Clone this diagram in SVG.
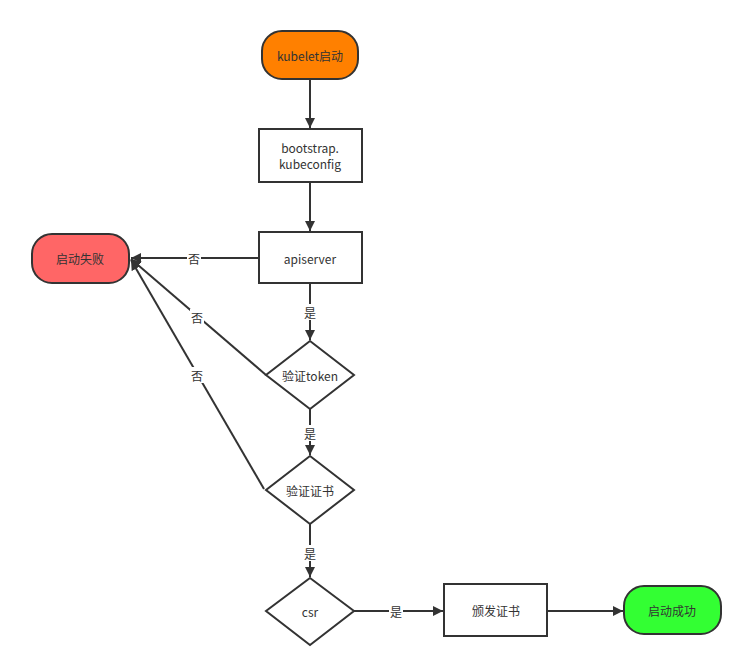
<svg xmlns="http://www.w3.org/2000/svg" width="750" height="669" viewBox="0 0 750 669">
<style>
.s{stroke:#333;stroke-width:2;}
.t{font-family:"Noto Sans CJK SC","Noto Sans",sans-serif;font-size:12px;fill:#333;text-anchor:middle;dominant-baseline:central;}
.l{stroke:#333;stroke-width:2;fill:none;}
.lb{fill:#fff;}
</style>
<defs>
<marker id="a" viewBox="0 0 10 10" refX="10" refY="5" markerWidth="10" markerHeight="10" markerUnits="userSpaceOnUse" orient="auto">
<path d="M0,0 L10,5 L0,10 Z" fill="#333"/>
</marker>
</defs>
<rect width="750" height="669" fill="#fff"/>
<g id="connectors">
<line class="l" x1="310" y1="80" x2="310" y2="128" marker-end="url(#a)"/>
<line class="l" x1="310" y1="182" x2="310" y2="231" marker-end="url(#a)"/>
<line class="l" x1="259" y1="258" x2="131" y2="258" marker-end="url(#a)"/>
<line class="l" x1="310" y1="283" x2="310" y2="340" marker-end="url(#a)"/>
<line class="l" x1="266" y1="375" x2="131" y2="259" marker-end="url(#a)"/>
<line class="l" x1="310" y1="409" x2="310" y2="455" marker-end="url(#a)"/>
<line class="l" x1="264" y1="489" x2="131" y2="260" marker-end="url(#a)"/>
<line class="l" x1="310" y1="524" x2="310" y2="577" marker-end="url(#a)"/>
<line class="l" x1="354" y1="611" x2="443" y2="611" marker-end="url(#a)"/>
<line class="l" x1="547" y1="611" x2="623" y2="611" marker-end="url(#a)"/>
<rect class="lb" x="187" y="250" width="14" height="16"/>
<text class="t" x="194" y="258">否</text>
<rect class="lb" x="190" y="309" width="14" height="16"/>
<text class="t" x="197" y="317">否</text>
<rect class="lb" x="190" y="367" width="14" height="16"/>
<text class="t" x="197" y="375">否</text>
<rect class="lb" x="303" y="304" width="14" height="16"/>
<text class="t" x="310" y="312">是</text>
<rect class="lb" x="303" y="425" width="14" height="16"/>
<text class="t" x="310" y="433">是</text>
<rect class="lb" x="303" y="545" width="14" height="16"/>
<text class="t" x="310" y="553">是</text>
<rect class="lb" x="389" y="603" width="14" height="16"/>
<text class="t" x="396" y="611">是</text>
</g>
<g id="kubelet">
<rect class="s" x="262" y="31" width="96" height="48" rx="20" fill="#FF8000"/>
<text class="t" x="310" y="55">kubelet启动</text>
</g>
<g id="bootstrap">
<rect class="s" x="259" y="129" width="103" height="53" fill="#fff"/>
<text class="t" x="310" y="147">bootstrap.</text>
<text class="t" x="310" y="163">kubeconfig</text>
</g>
<g id="apiserver">
<rect class="s" x="259" y="232" width="103" height="51" fill="#fff"/>
<text class="t" x="310" y="258">apiserver</text>
</g>
<g id="fail">
<rect class="s" x="32" y="234" width="97" height="49" rx="20" fill="#FF6666"/>
<text class="t" x="80" y="258">启动失败</text>
</g>
<g id="token">
<polygon class="s" points="310,341 354,375 310,409 266,375" fill="#fff"/>
<text class="t" x="310" y="375">验证token</text>
</g>
<g id="cert">
<polygon class="s" points="310,456 354,490 310,524 266,490" fill="#fff"/>
<text class="t" x="310" y="490">验证证书</text>
</g>
<g id="csr">
<polygon class="s" points="310,578 354,611 310,645 266,611" fill="#fff"/>
<text class="t" x="310" y="611">csr</text>
</g>
<g id="issue">
<rect class="s" x="444" y="584" width="103" height="52" fill="#fff"/>
<text class="t" x="496" y="610">颁发证书</text>
</g>
<g id="success">
<rect class="s" x="624" y="586" width="97" height="48" rx="20" fill="#33FF33"/>
<text class="t" x="672" y="610">启动成功</text>
</g>
</svg>
